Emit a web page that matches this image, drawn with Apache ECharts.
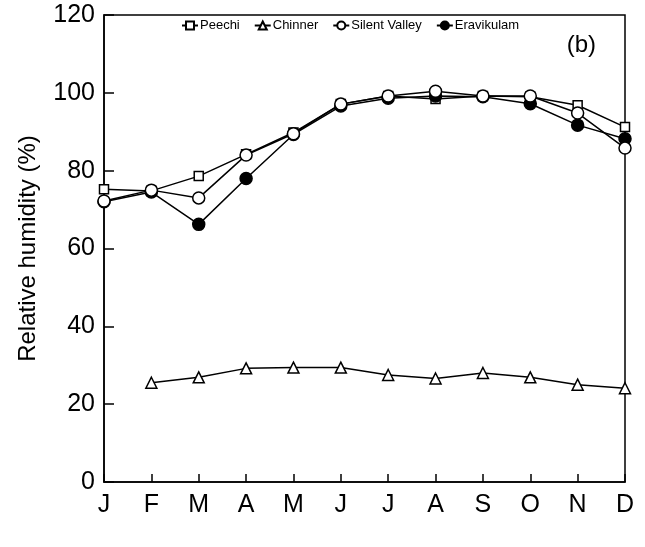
<!DOCTYPE html>
<html>
<head>
<meta charset="utf-8">
<script src="https://cdn.jsdelivr.net/npm/echarts@6/dist/echarts.min.js"></script>
<style>html,body{margin:0;padding:0;background:#fff}#c{width:645px;height:547px}</style>
</head>
<body>
<div id="c"></div>
<script>
const months = ['J','F','M','A','M','J','J','A','S','O','N','D'];
const yTicks = [0, 20, 40, 60, 80, 100, 120];
const peechi = [75.2, 74.8, 78.6, 84.2, 89.8, 97.1, 99.2, 98.4, 99.2, 99.0, 96.8, 91.2];
const chinner = [null, 25.5, 26.9, 29.2, 29.4, 29.4, 27.5, 26.6, 28.0, 26.9, 25.0, 24.1];
const silentValley = [72.2, 75.0, 73.0, 84.0, 89.5, 97.1, 99.2, 100.4, 99.2, 99.2, 94.8, 85.8];
const eravikulam = [72.0, 74.5, 66.2, 78.0, 89.3, 96.6, 98.6, 99.2, 99.0, 97.2, 91.7, 88.2];

const FONT = 'Liberation Sans, Arial, Helvetica, sans-serif';
const chart = echarts.init(document.getElementById('c'), null, {renderer: 'canvas'});
const lineStyle = {color: '#000', width: 1.5};
function mk(name, data, symbol, size, fill, z) {
  return {
    name: name, type: 'line', data: data, symbol: symbol, symbolSize: size,
    showAllSymbol: true, connectNulls: false, z: z,
    lineStyle: lineStyle,
    itemStyle: {color: fill, borderColor: '#000', borderWidth: 1.5},
    emphasis: {disabled: true}, animation: false
  };
}
chart.setOption({
  animation: false,
  backgroundColor: '#fff',
  title: {
    text: '(b)', right: 44, top: 28,
    textStyle: {fontFamily: FONT, fontSize: 24, fontWeight: 'normal', color: '#000'}
  },
  legend: {
    top: 14, left: 176, itemGap: 14, itemWidth: 16, itemHeight: 10,
    textStyle: {fontFamily: FONT, fontSize: 13, color: '#000', padding: [0,0,0,-3]},
    data: ['Peechi', 'Chinner', 'Silent Valley', 'Eravikulam']
  },
  grid: {
    left: 104, right: 20, top: 15, bottom: 65, containLabel: false,
    show: true, borderColor: '#000', borderWidth: 1.5
  },
  xAxis: {
    type: 'category', data: months, boundaryGap: false,
    axisLine: {lineStyle: {color: '#000', width: 1.5}},
    axisTick: {inside: true, length: 8, lineStyle: {color: '#000', width: 1.5}},
    axisLabel: {fontFamily: FONT, fontSize: 25, color: '#000', margin: 11, interval: 0},
    splitLine: {show: false}
  },
  yAxis: {
    type: 'value', min: 0, max: 120, interval: 20,
    name: 'Relative humidity (%)', nameLocation: 'middle', nameGap: 64,
    nameTextStyle: {fontFamily: FONT, fontSize: 24, color: '#000'},
    axisLine: {show: true, lineStyle: {color: '#000', width: 1.5}},
    axisTick: {show: true, inside: true, length: 10, lineStyle: {color: '#000', width: 1.5}},
    axisLabel: {fontFamily: FONT, fontSize: 25, color: '#000', margin: 9,
      formatter: v => yTicks.includes(v) ? String(v) : ''},
    splitLine: {show: false}
  },
  series: [
    mk('Peechi', peechi, 'rect', 9, '#fff', 2),
    mk('Chinner', chinner, 'triangle', 11, '#fff', 2),
    mk('Eravikulam', eravikulam, 'circle', 12, '#000', 3),
    mk('Silent Valley', silentValley, 'circle', 12, '#fff', 4)
  ]
});
</script>
</body>
</html>
